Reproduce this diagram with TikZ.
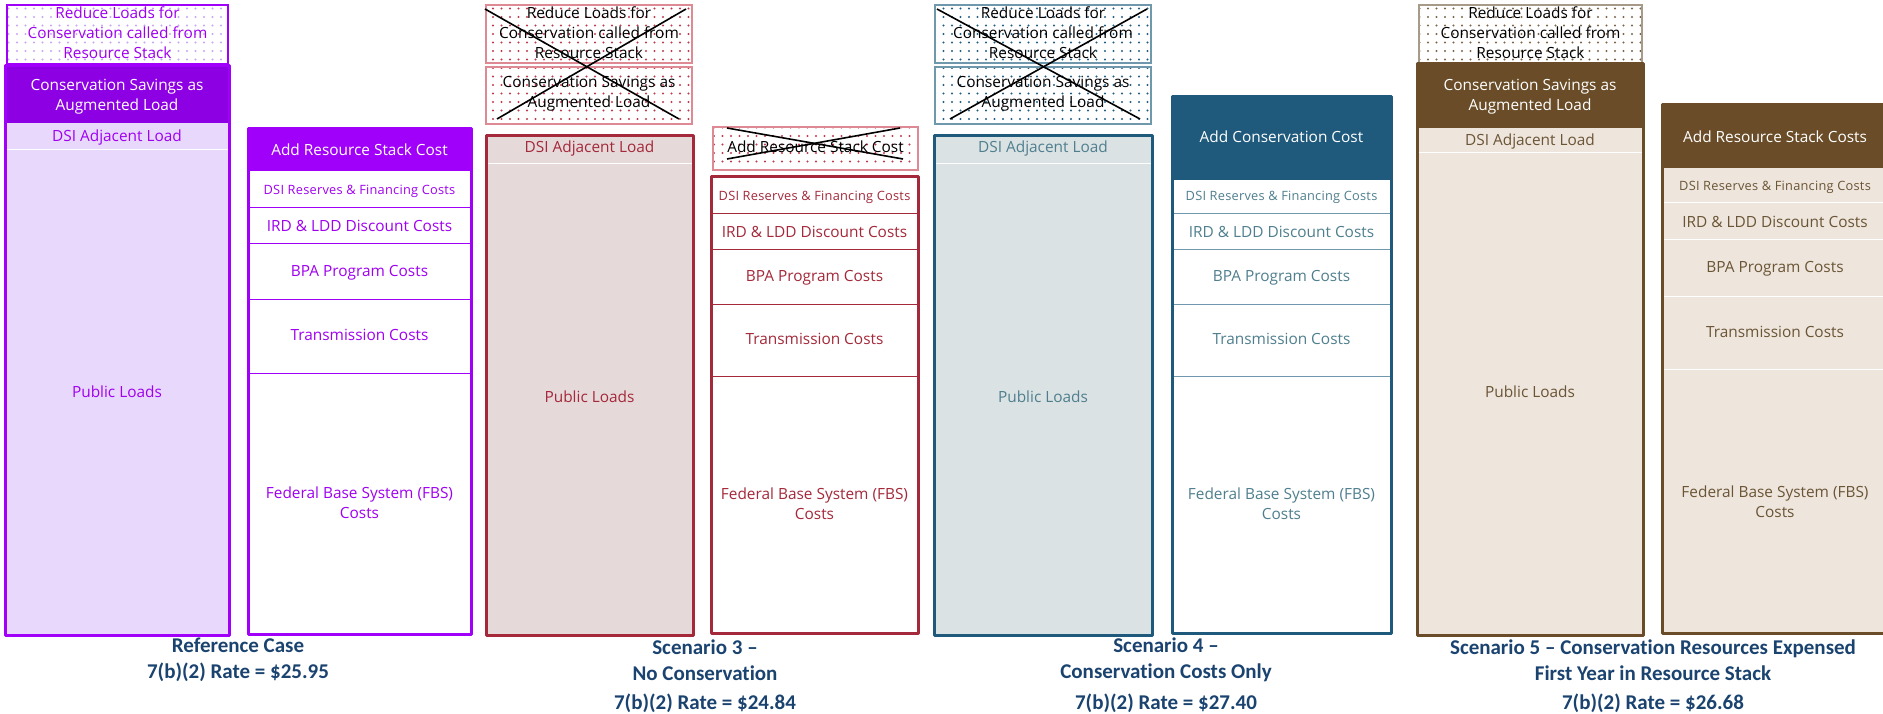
\documentclass[tikz,border=0pt]{standalone}
\usepackage{fontspec}
\setmainfont{Open Sans}
\newfontfamily\capfont[Ligatures={TeX,NoCommon}]{Carlito}
\usetikzlibrary{patterns.meta}

% palette per scenario
\definecolor{pline}{HTML}{A000FA}
\definecolor{phead}{HTML}{8E00E4}
\definecolor{pfill}{HTML}{E8D9FC}
\definecolor{ptext}{HTML}{A000F0}
\definecolor{pdot}{HTML}{C9A6F2}
\definecolor{rline}{HTML}{A4293A}
\definecolor{rfill}{HTML}{E6D9DA}
\definecolor{rtext}{HTML}{A4293A}
\definecolor{rdot}{HTML}{C03A4C}
\definecolor{rthin}{HTML}{DD8A94}
\definecolor{bline}{HTML}{1F5A7D}
\definecolor{bfill}{HTML}{DBE2E3}
\definecolor{btext}{HTML}{4F7F8E}
\definecolor{bdot}{HTML}{245E82}
\definecolor{bthin}{HTML}{6F98AC}
\definecolor{nline}{HTML}{6A4D28}
\definecolor{nfill}{HTML}{EEE5DD}
\definecolor{ntext}{HTML}{6A5535}
\definecolor{ndot}{HTML}{7E6446}
\definecolor{nthin}{HTML}{A89A88}
\definecolor{capcol}{HTML}{1A4370}

\tikzset{
  lbl/.style={align=center, inner sep=0pt, font=\fontsize{15.4}{20}\selectfont},
  lblsmall/.style={align=center, inner sep=0pt, font=\fontsize{12.8}{16}\selectfont\addfontfeatures{LetterSpace=2}},
  captxt/.style={align=center, inner sep=0pt, text=capcol, font=\capfont\bfseries\fontsize{21}{25.5}\selectfont},
  frame/.style={line width=3pt, line join=round},
  sep/.style={line width=1pt},
  dotbox/.style={pattern={Dots[distance=8.5pt, radius=1.1pt]}},
  cross/.style={black, line width=1.6pt},
}

\begin{document}
\begin{tikzpicture}[x=1pt, y=-1pt]
\useasboundingbox (0,0) rectangle (1883,714);
\clip (0,0) rectangle (1883,714);
\fill[white] (0,0) rectangle (1883,714);

% ---------------- Reference Case ----------------
\fill[white] (7,5) rectangle (228,64);
\fill[dotbox, pattern color=pdot] (7,5) rectangle (228,64);
\draw[pline, line width=1.5pt] (7,5) rectangle (228,64);
\node[lbl, text=ptext] (rRed) at (117.5,33) {Reduce Loads for\\Conservation called from\\Resource Stack};

\fill[pfill] (5,66) rectangle (229,635);
\fill[phead] (5,66) rectangle (229,123);
\draw[white, sep] (6.5,150) -- (227.5,150);
\draw[pline, frame] (5,66) rectangle (229,635);
\node[lbl, text=white] (rAug) at (117,97) {Conservation Savings as\\Augmented Load};
\node[lbl, text=ptext] (rDSI) at (117,138) {DSI Adjacent Load};
\node[lbl, text=ptext] (rPub) at (117,392) {Public Loads};

\fill[white] (248,129) rectangle (471,634);
\fill[pline] (248,129) rectangle (471,171);
\foreach \yy in {208,244,299,373} \draw[pline, sep] (249.5,\yy) -- (469.5,\yy);
\draw[pline, frame] (248,129) rectangle (471,634);
\node[lbl, text=white] (rAdd) at (359.5,150) {Add Resource Stack Cost};
\node[lblsmall, text=ptext] (rRes) at (359.5,191) {DSI Reserves \& Financing Costs};
\node[lbl, text=ptext] (rIRD) at (359.5,226) {IRD \& LDD Discount Costs};
\node[lbl, text=ptext] (rBPA) at (359.5,273) {BPA Program Costs};
\node[lbl, text=ptext] (rTr) at (359.5,335) {Transmission Costs};
\node[lbl, text=ptext] (rFBS) at (359.5,503) {Federal Base System (FBS)\\Costs};

\node[captxt] (rCap) at (238,660) {Reference Case\\7(b)(2) Rate = \$25.95};

% ---------------- Scenario 3 ----------------
\fill[white] (486,5) rectangle (692,63);
\fill[dotbox, pattern color=rdot] (486,5) rectangle (692,63);
\draw[rthin, line width=1.2pt] (486,5) rectangle (692,63);
\fill[white] (486,67) rectangle (692,124);
\fill[dotbox, pattern color=rdot] (486,67) rectangle (692,124);
\draw[rthin, line width=1.2pt] (486,67) rectangle (692,124);
\node[lbl] (s3Red) at (589,33) {Reduce Loads for\\Conservation called from\\Resource Stack};
\node[lbl] (s3Aug) at (589,94) {Conservation Savings as\\Augmented Load};
\draw[cross] (485,9) -- (679,119);
\draw[cross] (686,9) -- (497,119);

\fill[rfill] (486,136) rectangle (693,635);
\draw[white, sep] (487.5,164) -- (691.5,164);
\draw[rline, frame] (486,136) rectangle (693,635);
\node[lbl, text=rtext] (s3DSI) at (589.5,149) {DSI Adjacent Load};
\node[lbl, text=rtext] (s3Pub) at (589.5,397) {Public Loads};

\fill[white] (713,127) rectangle (918,170);
\fill[dotbox, pattern color=rdot] (713,127) rectangle (918,170);
\draw[rthin, line width=1.2pt] (713,127) rectangle (918,170);
\node[lbl] (s3Add) at (815.5,147) {Add Resource Stack Cost};
\draw[cross] (727,128) -- (903,159);
\draw[cross] (900,128) -- (727,159);

\fill[white] (711,177) rectangle (918,633);
\foreach \yy in {214,250,304,376} \draw[rline, sep] (712.5,\yy) -- (916.5,\yy);
\draw[rline, frame] (711,177) rectangle (918,633);
\node[lblsmall, text=rtext] (s3Res) at (814.5,197) {DSI Reserves \& Financing Costs};
\node[lbl, text=rtext] (s3IRD) at (814.5,232) {IRD \& LDD Discount Costs};
\node[lbl, text=rtext] (s3BPA) at (814.5,278) {BPA Program Costs};
\node[lbl, text=rtext] (s3Tr) at (814.5,339) {Transmission Costs};
\node[lbl, text=rtext] (s3FBS) at (814.5,504) {Federal Base System (FBS)\\Costs};

\node[captxt] (s3Cap) at (705,660) {Scenario 3 –\\No Conservation};
\node[captxt] (s3Rate) at (705,703) {7(b)(2) Rate = \$24.84};

% ---------------- Scenario 4 ----------------
\fill[white] (935,5) rectangle (1151,63);
\fill[dotbox, pattern color=bdot] (935,5) rectangle (1151,63);
\draw[bthin, line width=1.2pt] (935,5) rectangle (1151,63);
\fill[white] (935,67) rectangle (1151,124);
\fill[dotbox, pattern color=bdot] (935,67) rectangle (1151,124);
\draw[bthin, line width=1.2pt] (935,67) rectangle (1151,124);
\node[lbl] (s4Red) at (1043,33) {Reduce Loads for\\Conservation called from\\Resource Stack};
\node[lbl] (s4Aug) at (1043,94) {Conservation Savings as\\Augmented Load};
\draw[cross] (937,9) -- (1140,119);
\draw[cross] (1147,9) -- (950,119);

\fill[bfill] (934,136) rectangle (1152,635);
\draw[white, sep] (935.5,164) -- (1150.5,164);
\draw[bline, frame] (934,136) rectangle (1152,635);
\node[lbl, text=btext] (s4DSI) at (1043,149) {DSI Adjacent Load};
\node[lbl, text=btext] (s4Pub) at (1043,397) {Public Loads};

\fill[white] (1172,97) rectangle (1391,633);
\fill[bline] (1172,97) rectangle (1391,180);
\foreach \yy in {214,250,304,376} \draw[bthin, sep] (1173.5,\yy) -- (1389.5,\yy);
\draw[bline, frame] (1172,97) rectangle (1391,633);
\node[lbl, text=white] (s4Add) at (1281.5,137) {Add Conservation Cost};
\node[lblsmall, text=btext] (s4Res) at (1281.5,197) {DSI Reserves \& Financing Costs};
\node[lbl, text=btext] (s4IRD) at (1281.5,232) {IRD \& LDD Discount Costs};
\node[lbl, text=btext] (s4BPA) at (1281.5,278) {BPA Program Costs};
\node[lbl, text=btext] (s4Tr) at (1281.5,339) {Transmission Costs};
\node[lbl, text=btext] (s4FBS) at (1281.5,504) {Federal Base System (FBS)\\Costs};

\node[captxt] (s4Cap) at (1166,660) {Scenario 4 –\\Conservation Costs Only};
\node[captxt] (s4Rate) at (1166,703) {7(b)(2) Rate = \$27.40};

% ---------------- Scenario 5 ----------------
\fill[white] (1419,5) rectangle (1642,63);
\fill[dotbox, pattern color=ndot] (1419,5) rectangle (1642,63);
\draw[nthin, line width=1.2pt] (1419,5) rectangle (1642,63);
\node[lbl] (s5Red) at (1530.5,33) {Reduce Loads for\\Conservation called from\\Resource Stack};

\fill[nfill] (1417,64) rectangle (1643,635);
\fill[nline] (1417,64) rectangle (1643,128);
\draw[white, sep] (1418.5,153) -- (1641.5,153);
\draw[nline, frame] (1417,64) rectangle (1643,635);
\node[lbl, text=white] (s5Aug) at (1530,97) {Conservation Savings as\\Augmented Load};
\node[lbl, text=ntext] (s5DSI) at (1530,142) {DSI Adjacent Load};
\node[lbl, text=ntext] (s5Pub) at (1530,392) {Public Loads};

\fill[nfill] (1662,105) rectangle (1888,633);
\fill[nline] (1662,105) rectangle (1888,168);
\foreach \yy in {203,240,296,369} \draw[white, sep] (1663.5,\yy) -- (1886.5,\yy);
\draw[nline, frame] (1662,105) rectangle (1888,633);
\node[lbl, text=white] (s5Add) at (1775,137) {Add Resource Stack Costs};
\node[lblsmall, text=ntext] (s5Res) at (1775,187) {DSI Reserves \& Financing Costs};
\node[lbl, text=ntext] (s5IRD) at (1775,222) {IRD \& LDD Discount Costs};
\node[lbl, text=ntext] (s5BPA) at (1775,269) {BPA Program Costs};
\node[lbl, text=ntext] (s5Tr) at (1775,332) {Transmission Costs};
\node[lbl, text=ntext] (s5FBS) at (1775,502) {Federal Base System (FBS)\\Costs};

\node[captxt] (s5Cap) at (1653,660) {Scenario 5 – Conservation Resources Expensed\\First Year in Resource Stack};
\node[captxt] (s5Rate) at (1653,703) {7(b)(2) Rate = \$26.68};
\end{tikzpicture}
\end{document}
